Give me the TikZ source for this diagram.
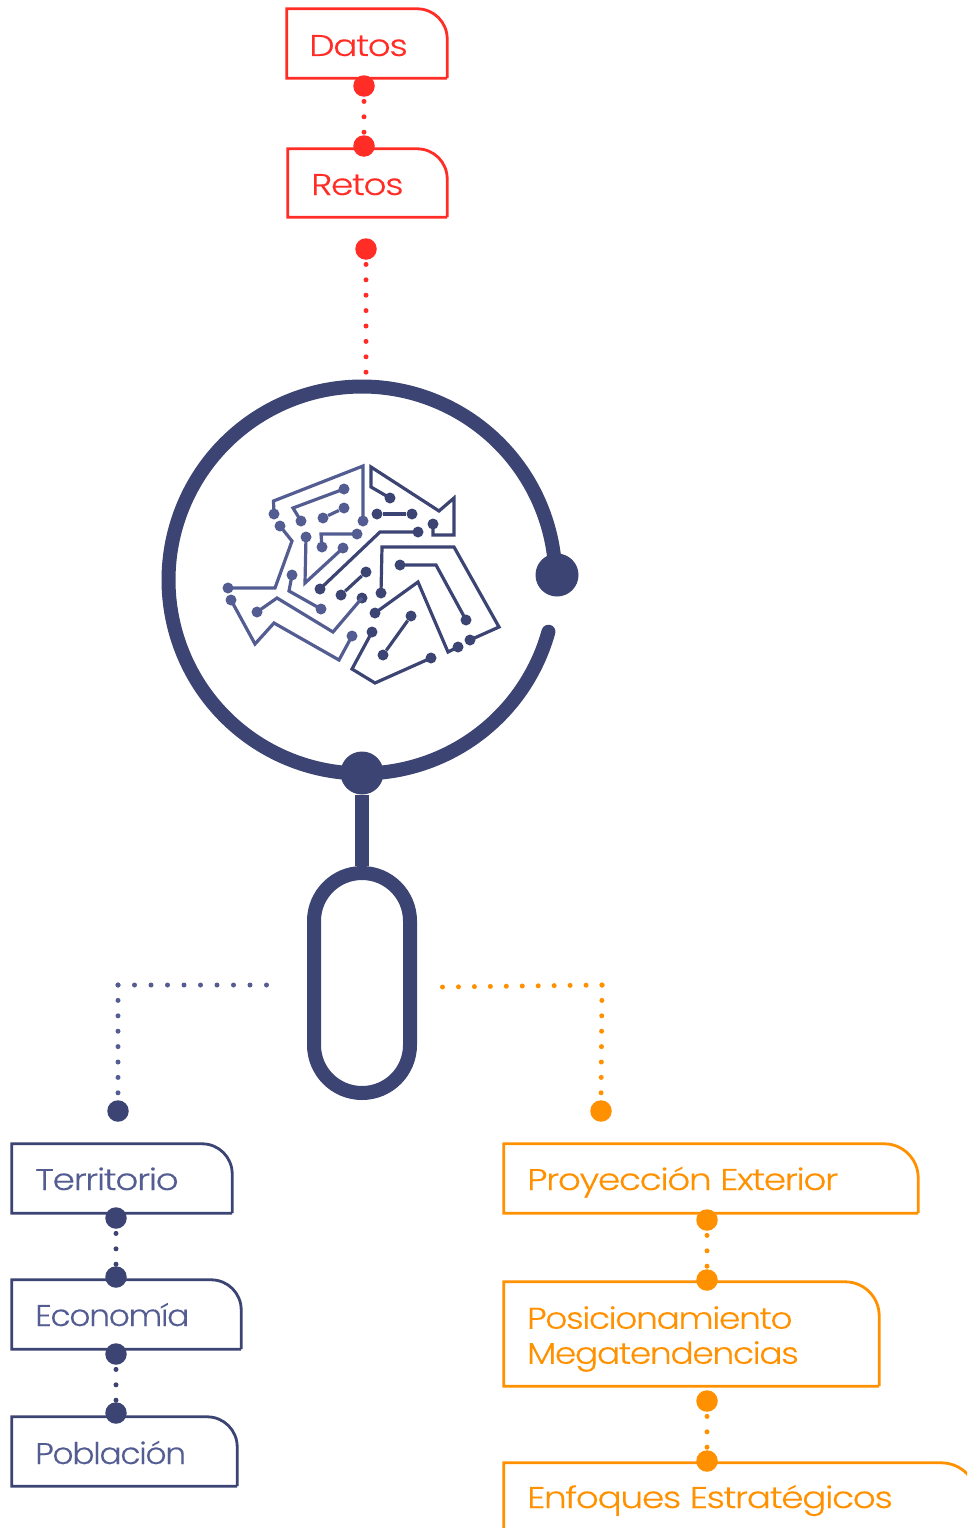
\documentclass[tikz,border=0pt]{standalone}
\usepackage{fontspec}
\newfontfamily\labelfont[FakeStretch=1.2,LetterSpace=-4.5,FakeBold=0.25]{Poppins Light}
\newfontfamily\labelmid[FakeStretch=1.15,LetterSpace=-4.5,FakeBold=0.25]{Poppins Light}
\newfontfamily\labelnarrow[FakeStretch=1.1,LetterSpace=-4.5,FakeBold=0.25]{Poppins Light}
\newcommand{\labelsize}{\fontsize{30}{35}\selectfont}
\definecolor{cred}{HTML}{FF2D26}
\definecolor{corange}{HTML}{FF9100}
\definecolor{cnavy}{HTML}{3C4473}
\definecolor{clight}{HTML}{545D92}
\tikzset{
  bigdot/.style={circle,fill=#1,draw=none,inner sep=0pt,minimum size=21.5pt},
  hugedot/.style={circle,fill=cnavy,draw=none,inner sep=0pt,minimum size=43pt},
  chipdot/.style={circle,fill=#1,draw=none,inner sep=0pt,minimum size=11pt},
  dotline/.style={draw=#1,line width=5pt,line cap=round,dash pattern=on 0pt off 15.4pt},
  tabframe/.style={draw=#1,line width=2.8pt,line join=miter},
  tabspace/.style={draw=none,inner sep=0pt},
  tablabel/.style={text=#1,inner sep=0pt,font=\labelfont\labelsize,align=left},
  trace/.style={draw=#1,line width=3.2pt,line join=miter},
  lens/.style={draw=cnavy,line width=14pt},
}
\newcommand{\tabbox}[7]{% name,x1,y1,x2,y2,radius,colour
  \path let \n1={#4-#2},\n2={#5-#3} in
    node[tabspace,minimum width=\n1,minimum height=\n2,anchor=center] (#1) at ({(#2+#4)/2},{(#3+#5)/2}) {};
  \draw[tabframe=#7] (#1.south east) -- (#1.south west) -- (#1.north west)
     [rounded corners=#6pt] -- (#1.north east) [sharp corners] -- (#1.south east);
}
\usetikzlibrary{calc}
\begin{document}
\begin{tikzpicture}[x=1pt,y=-1pt]
\useasboundingbox (0,0) rectangle (967,1528);
\clip (0,0) rectangle (967,1528);

% ---- magnifier
\draw[lens,line cap=round] plot[smooth,domain=15.5:358,samples=160] ({362+193.5*cos(\x)},{580+193.5*sin(\x)});
\node[hugedot] (knob) at (557,575) {};
\node[hugedot] (neck) at (362,773) {};
\node[draw=cnavy,line width=14pt,rounded corners=48pt,minimum width=96pt,minimum height=220pt,inner sep=0pt] (grip) at (362,983) {};
\draw[lens] (neck) -- (grip.north);

% ---- chip traces, left
\node[chipdot=clight] (a1) at (274,514) {};
\node[chipdot=clight] (a2) at (363,521) {};
\draw[trace=clight] (a1.center) -- (273.5,501) -- (363,466) -- (a2.center);
\node[chipdot=clight] (b1) at (301,521) {};
\node[chipdot=clight] (b2) at (344,489) {};
\draw[trace=clight] (b1.center) -- (293,508) -- (b2.center);
\node[chipdot=clight] (c1) at (323,518) {};
\node[chipdot=clight] (c2) at (344,508) {};
\draw[trace=clight] (c1) -- (c2);
\node[chipdot=clight] (d1) at (280,526) {};
\node[chipdot=clight] (d2) at (228,588) {};
\draw[trace=clight] (d1.center) -- (292,541) -- (275,588) -- (d2.center);
\node[chipdot=clight] (e1) at (306,537) {};
\node[chipdot=clight] (e2) at (343,548) {};
\draw[trace=clight] (e1.center) -- (305,583) -- (e2.center);
\node[chipdot=clight] (f1) at (322,547) {};
\node[chipdot=clight] (f2) at (357,534) {};
\draw[trace=clight] (f1.center) -- (321,534) -- (f2.center);
\node[chipdot=clight] (g1) at (292,575) {};
\node[chipdot=clight] (g2) at (321,609) {};
\draw[trace=clight] (g1.center) -- (289,591) -- (g2.center);
\node[chipdot=clight] (h1) at (231,600) {};
\node[chipdot=clight] (h2) at (352,636) {};
\draw[trace=clight] (h1.center) -- (255,644) -- (274,623) -- (339,660) -- (h2.center);
\node[chipdot=clight] (i1) at (257,612) {};
\node[chipdot=cnavy] (i2) at (362,598) {};
\draw[trace=clight] (i1.center) -- (277,598) -- (333,632) -- (i2.center);
% ---- chip traces, right
\node[chipdot=cnavy] (j1) at (320,589) {};
\node[chipdot=cnavy] (j2) at (418,532) {};
\draw[trace=cnavy] (j1.center) -- (380,532) -- (j2.center);
\node[chipdot=cnavy] (k1) at (341,595) {};
\node[chipdot=cnavy] (k2) at (366,572) {};
\draw[trace=cnavy] (k1) -- (k2);
\node[chipdot=cnavy] (l1) at (377,514) {};
\node[chipdot=cnavy] (l2) at (412,514) {};
\draw[trace=cnavy] (l1) -- (l2);
\node[chipdot=cnavy] (m1) at (390,498) {};
\node[chipdot=cnavy] (m2) at (433,524) {};
\draw[trace=cnavy] (m1.center) -- (371,487) -- (371,467) -- (439,511) -- (454,498) -- (454,535) -- (433,535) -- (m2.center);
\node[chipdot=cnavy] (n1) at (381,593) {};
\node[chipdot=cnavy] (n2) at (470,640) {};
\draw[trace=cnavy] (n1.center) -- (382,547) -- (454,547) -- (499,627) -- (n2.center);
\node[chipdot=cnavy] (o1) at (400,565) {};
\node[chipdot=cnavy] (o2) at (466,620) {};
\draw[trace=cnavy] (o1.center) -- (436,565) -- (o2.center);
\node[chipdot=cnavy] (p1) at (375,613) {};
\node[chipdot=cnavy] (p2) at (458,647) {};
\draw[trace=cnavy] (p1.center) -- (418,582) -- (448,652) -- (p2.center);
\node[chipdot=cnavy] (q1) at (411,616) {};
\node[chipdot=cnavy] (q2) at (383,655) {};
\draw[trace=cnavy] (q1) -- (q2);
\node[chipdot=cnavy] (r1) at (372,632) {};
\node[chipdot=cnavy] (r2) at (431,658) {};
\draw[trace=cnavy] (r1.center) -- (352,669) -- (375,683) -- (r2.center);

% ---- red column
\tabbox{datos}{287}{9}{447}{78}{30}{cred}
\tabbox{retos}{288}{149}{447}{217}{30}{cred}
\node[tablabel=cred,anchor=base west] (tdatos) at (309,56) {Datos};
\node[tablabel=cred,anchor=base west] (tretos) at (311,195) {Retos};
\node[bigdot=cred] (rd1) at (364,86) {};
\node[bigdot=cred] (rd2) at (364,146) {};
\node[bigdot=cred] (rd3) at (366,249) {};
\coordinate (rtop) at (366,376);
\draw[dotline=cred] (rd1.center) -- (rd2.center);
\draw[dotline=cred] (rd3.center) -- (rtop);

% ---- left branch
\coordinate (lstart) at (267,985);
\coordinate (lbend) at (118,985);
\node[bigdot=cnavy] (ld0) at (118,1111) {};
\draw[dotline=clight,dash pattern=on 0pt off 16.5pt] (lbend) -- (lstart);
\draw[dotline=clight] (lbend) -- (ld0.north);
\tabbox{terr}{12}{1144}{232}{1213}{30}{cnavy}
\tabbox{econ}{12}{1280}{241}{1349}{30}{cnavy}
\tabbox{pobl}{12}{1417}{237}{1486}{30}{cnavy}
\node[tablabel=clight,anchor=base west] (tterr) at (35,1190) {Territorio};
\node[tablabel=clight,anchor=base west,font=\labelnarrow\labelsize] (tecon) at (35,1326) {Economía};
\node[tablabel=clight,anchor=base west,font=\labelnarrow\labelsize] (tpobl) at (35,1464) {Población};
\node[bigdot=cnavy] (ld1) at (116,1218) {};
\node[bigdot=cnavy] (ld2) at (116,1277) {};
\node[bigdot=cnavy] (ld3) at (116,1354) {};
\node[bigdot=cnavy] (ld4) at (116,1413) {};
\draw[dotline=cnavy] (ld1.center) -- (ld2.center);
\draw[dotline=cnavy] (ld3.center) -- (ld4.center);

% ---- right branch
\coordinate (ostart) at (442,987);
\coordinate (obend) at (602,985);
\node[bigdot=corange] (od0) at (601,1111) {};
\draw[dotline=corange,dash pattern=on 0pt off 15.95pt] (obend) -- (ostart);
\draw[dotline=corange] (obend) -- (od0.north);
\tabbox{proy}{504}{1144}{918}{1213}{34}{corange}
\tabbox{posi}{504}{1282}{879}{1386}{34}{corange}
\tabbox{enfo}{504}{1463}{977}{1600}{36}{corange}
\node[tablabel=corange,anchor=base west] (tproy) at (527,1190) {Proyección Exterior};
\node[tablabel=corange,anchor=west,font=\labelmid\labelsize] (tposi) at (527,1339) {Posicionamiento\\Megatendencias};
\node[tablabel=corange,anchor=base west] (tenfo) at (527,1508) {Enfoques Estratégicos};
\node[bigdot=corange] (od1) at (707,1220) {};
\node[bigdot=corange] (od2) at (707,1280) {};
\node[bigdot=corange] (od3) at (707,1401) {};
\node[bigdot=corange] (od4) at (707,1461) {};
\draw[dotline=corange] (od1.center) -- (od2.center);
\draw[dotline=corange] (od3.center) -- (od4.center);
\end{tikzpicture}
\end{document}
